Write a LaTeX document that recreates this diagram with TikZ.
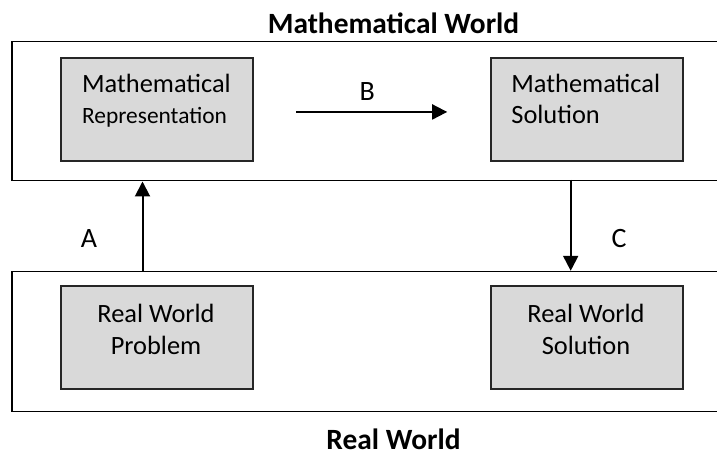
\documentclass[tikz,border=0pt]{standalone}
\usepackage{fontspec}
\setmainfont{Carlito}
\usetikzlibrary{arrows.meta, positioning}
\definecolor{BoxFill}{HTML}{D9D9D9}
\definecolor{BoxEdge}{HTML}{262626}

\begin{document}
\begin{tikzpicture}[x=0.5pt, y=-0.5pt,
   worldbox/.style={draw=black, line width=0.75pt, inner sep=0pt, anchor=north west},
   stagebox/.style={draw=BoxEdge, fill=BoxFill, line width=1pt, inner sep=0pt,
      anchor=north west, minimum width=96pt, minimum height=51.65pt},
   boxtext/.style={font=\fontsize{13.2}{15.6}\selectfont, inner sep=0pt, anchor=base},
   steplabel/.style={font=\fontsize{14}{16}\selectfont, inner sep=0pt, anchor=base},
   worldtitle/.style={font=\fontsize{14.7}{18}\selectfont\bfseries, inner sep=0pt, anchor=base},
   flow/.style={-{Triangle[length=7.5pt, width=7.5pt]}, line width=1pt}
]
   \useasboundingbox (0,0) rectangle (717,454);
   \clip (0,0) rectangle (717,454);
   % Outer frames (right edge runs off the page)
   \node[worldbox, minimum width=360pt, minimum height=69.65pt] (mathworld) at (11,40.7) {};
   \node[worldbox, minimum width=360pt, minimum height=69.85pt] (realworld) at (11,270.8) {};
   % Stage boxes
   \node[stagebox] (rep) at (60,56.7) {};
   \node[stagebox] (msol) at (490,56.7) {};
   \node[stagebox] (rwp) at (60,285) {};
   \node[stagebox] (rws) at (490,285) {};
   % Box texts (base = last line)
   \node[boxtext, align=left, anchor=base west] (reptext) at (81.7,124)
      {Mathematical\\{\fontsize{11.7}{15.6}\selectfont Representation}};
   \node[boxtext, align=left, anchor=base west] (msoltext) at (511,124)
      {Mathematical\\Solution};
   \node[boxtext, align=center] (rwptext) at (156,354) {Real World\\Problem};
   \node[boxtext, align=center] (rwstext) at (586,354) {Real World\\Solution};
   % Step arrows
   \coordinate (afoot) at (142.5,270.8);
   \draw[flow] (afoot) -- (afoot |- mathworld.south);
   \draw[flow] ([xshift=21pt, yshift=-1.3pt]rep.east) -- ([xshift=-21.4pt, yshift=-1.3pt]msol.west);
   \coordinate (ctop) at (570.7,180);
   \draw[flow] (ctop) -- (ctop |- realworld.north);
   % Step labels
   \node[steplabel] (alabel) at (89,248) {A};
   \node[steplabel] (blabel) at (367.3,100.7) {B};
   \node[steplabel] (clabel) at (619.2,248) {C};
   % World titles
   \node[worldtitle] (mathtitle) at (393.5,34) {Mathematical World};
   \node[worldtitle] (realtitle) at (393.5,449) {Real World};
\end{tikzpicture}
\end{document}
